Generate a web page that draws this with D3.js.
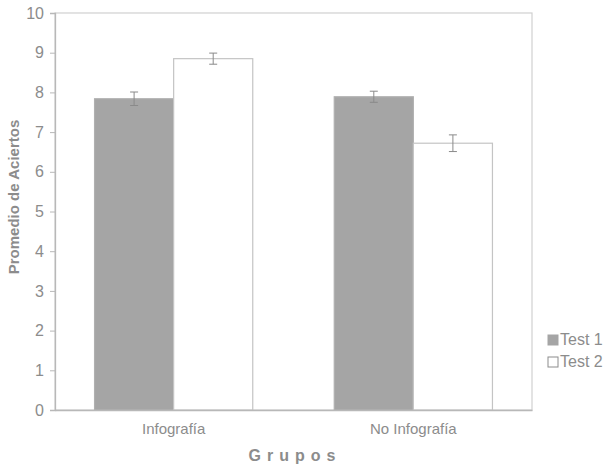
<!DOCTYPE html>
<html><head><meta charset="utf-8">
<script src="https://cdn.jsdelivr.net/npm/d3@7"></script>
<style>body{margin:0;background:#fff}svg{display:block}</style>
</head><body>
<script>
const categories = ["Infografía", "No Infografía"];
const seriesNames = ["Test 1", "Test 2"];
const test1 = [7.84, 7.89];
const test2 = [8.85, 6.72];
const err1 = [0.17, 0.14];
const err2 = [0.14, 0.21];
const yTicks = [0,1,2,3,4,5,6,7,8,9,10];
const colors = ["#a5a5a5", "#ffffff"];

const W = 616, H = 468;
const m = {left:55, right:84, top:13, bottom:58};
const svg = d3.select("body").append("svg").attr("width", W).attr("height", H)
  .style("font-family", "'Liberation Sans', Arial, sans-serif");

const x0 = d3.scaleBand().domain(categories).range([m.left, W - m.right]).paddingInner(0.34).paddingOuter(0.165);
const x1 = d3.scaleBand().domain(seriesNames).range([0, x0.bandwidth()]);
const y = d3.scaleLinear().domain([0, 10]).range([H - m.bottom, m.top]);

// frame
svg.append("rect").attr("x", m.left).attr("y", m.top)
  .attr("width", W - m.right - m.left).attr("height", H - m.bottom - m.top)
  .attr("fill", "none").attr("stroke", "#d0d0d0").attr("stroke-width", 1.2);

const data = categories.map((c, i) => ({c, vals: [
  {s: seriesNames[0], v: test1[i], e: err1[i], col: colors[0]},
  {s: seriesNames[1], v: test2[i], e: err2[i], col: colors[1]}
]}));

const g = svg.append("g").selectAll("g").data(data).join("g")
  .attr("transform", d => `translate(${x0(d.c)},0)`);
g.selectAll("rect").data(d => d.vals).join("rect")
  .attr("x", d => x1(d.s)).attr("width", x1.bandwidth())
  .attr("y", d => y(d.v)).attr("height", d => y(0) - y(d.v))
  .attr("fill", d => d.col).attr("stroke", d => d.s === "Test 1" ? "#b0b0b0" : "#c4c4c4").attr("stroke-width", 1.2);

// error bars
const eb = g.selectAll("g.eb").data(d => d.vals).join("g").attr("class", "eb")
  .attr("stroke", "#8a8a8a").attr("stroke-width", 1);
eb.append("line").attr("x1", d => x1(d.s) + x1.bandwidth()/2).attr("x2", d => x1(d.s) + x1.bandwidth()/2)
  .attr("y1", d => y(d.v + d.e)).attr("y2", d => y(d.v - d.e));
eb.append("line").attr("x1", d => x1(d.s) + x1.bandwidth()/2 - 4).attr("x2", d => x1(d.s) + x1.bandwidth()/2 + 4)
  .attr("y1", d => y(d.v + d.e)).attr("y2", d => y(d.v + d.e));
eb.append("line").attr("x1", d => x1(d.s) + x1.bandwidth()/2 - 4).attr("x2", d => x1(d.s) + x1.bandwidth()/2 + 4)
  .attr("y1", d => y(d.v - d.e)).attr("y2", d => y(d.v - d.e));

// y axis
const ya = svg.append("g").attr("transform", `translate(${m.left},0)`)
  .call(d3.axisLeft(y).tickValues(yTicks).tickSize(5).tickPadding(6).tickFormat(d3.format("d")));
ya.select(".domain").attr("stroke", "#b8b8b8").attr("stroke-width", 1.3);
ya.selectAll(".tick line").attr("stroke", "#b8b8b8");
ya.selectAll("text").attr("fill", "#8c8c8c").style("font-size", "16px");

// x axis
const xa = svg.append("g").attr("transform", `translate(0,${H - m.bottom})`)
  .call(d3.axisBottom(x0).tickSize(0).tickPadding(13));
xa.select(".domain").attr("stroke", "#b8b8b8").attr("stroke-width", 1.3);
xa.selectAll("text").attr("fill", "#8c8c8c").style("font-size", "15px");

// axis titles
svg.append("text").attr("x", 295).attr("y", 461).attr("text-anchor", "middle")
  .attr("fill", "#8c8c8c").style("font-size", "16px").style("font-weight", "bold")
  .style("letter-spacing", "6px").text("Grupos");
svg.append("text").attr("transform", `translate(19,197) rotate(-90)`)
  .attr("text-anchor", "middle").attr("fill", "#8c8c8c").style("font-size", "15px")
  .style("font-weight", "bold").text("Promedio de Aciertos");

// legend
const lg = svg.append("g").selectAll("g").data(seriesNames).join("g")
  .attr("transform", (d, i) => `translate(548,${335 + i * 22})`);
lg.append("rect").attr("width", 10).attr("height", 10)
  .attr("fill", (d, i) => colors[i]).attr("stroke", (d, i) => i ? "#8c8c8c" : "#a5a5a5");
lg.append("text").attr("x", 12).attr("y", 10).attr("fill", "#8c8c8c").style("font-size", "16px").text(d => d);
</script>
</body></html>
